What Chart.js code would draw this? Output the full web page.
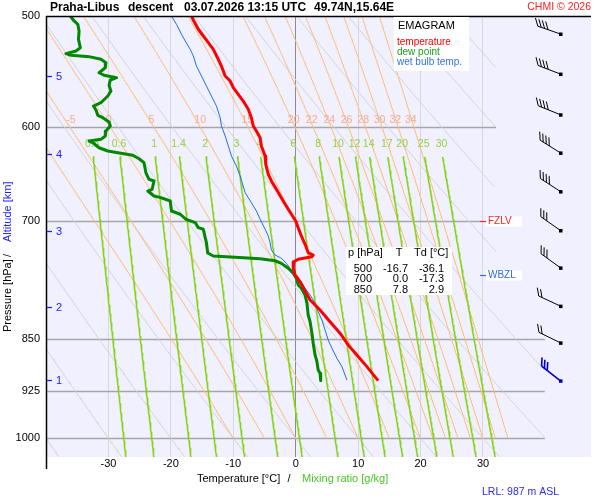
<!DOCTYPE html>
<html><head><meta charset="utf-8">
<script src="https://cdn.jsdelivr.net/npm/chart.js@4.4.0/dist/chart.umd.min.js"></script>
<style>html,body{margin:0;padding:0;background:#fff}canvas{display:block}</style>
</head><body>
<canvas id="c" width="600" height="500"></canvas>
<script>
// ---------------- DATA ----------------
const tempP = [500,503.3,511.0,516.7,522.4,528.1,536.8,542.8,551.7,556.3,562.4,568.6,574.9,582.7,590.8,598.9,603.9,610.5,618.9,629.1,637.8,648.3,655.5,664.5,677.4,686.7,700.0,707.7,717.4,727.3,737.4,740.2,742.3,745.4,748.4,756.5,764.9,773.3,796.9,810.1,825.8,841.6,857.9,872.1,889.0,909.7];
const tempT = [-16.7,-16.4,-15.6,-14.8,-14.0,-13.2,-12.4,-11.9,-11.3,-10.5,-10.0,-9.2,-8.4,-7.6,-7.1,-6.8,-6.3,-5.7,-5.5,-4.9,-4.8,-4.4,-3.9,-3.1,-2.0,-1.2,0.0,0.4,0.9,1.5,2.0,2.8,2.6,0.4,-0.3,-0.4,-0.1,0.7,2.3,3.9,5.5,7.1,8.4,9.8,11.4,13.2];

const dewP = [500,504.1,506.9,512.5,519.5,526.7,529.6,531.9,533.3,534.5,536.8,539.8,544.3,548.8,551.1,553.3,555.4,560.2,565.5,570.2,576.5,579.6,583.4,588.5,590.8,595.0,598.9,603.9,608.8,612.2,613.9,615.6,620.7,624.0,625.8,628.4,632.0,636.1,646.7,653.7,655.5,664.5,666.4,671.9,673.7,677.4,688.6,692.3,698.0,701.9,707.7,709.6,719.4,725.4,737.8,741.4,743.5,744.7,747.2,750.4,756.5,762.7,769.0,777.5,781.7,790.4,801.2,816.8,825.8,841.6,855.5,872.1,881.8,893.9,898.7,909.7];
const dewT = [-36.1,-35.5,-34.9,-34.7,-34.8,-34.5,-35.2,-36.8,-36.0,-33.1,-31.2,-30.4,-30.5,-31.5,-30.7,-28.7,-29.7,-29.9,-29.6,-30.1,-31.2,-32.4,-32.0,-31.7,-30.9,-29.9,-29.7,-30.4,-30.5,-31.2,-33.1,-32.5,-31.5,-30.1,-28.5,-26.1,-25.1,-24.3,-24.0,-23.5,-22.7,-23.0,-23.7,-22.7,-21.6,-20.1,-19.9,-18.5,-17.6,-16.1,-15.6,-14.8,-14.5,-14.3,-14.1,-13.2,-8.4,-5.7,-3.3,-2.3,-1.2,-0.4,0.1,0.4,0.9,1.5,1.8,2.0,2.3,2.6,2.8,3.1,3.4,3.6,3.9,4.0];

const wbP = [500,506.9,515.2,520.9,528.1,533.9,542.8,551.7,560.9,570.2,579.6,590.8,598.9,608.8,618.9,629.1,639.6,650.1,668.2,679.3,688.6,698.0,709.6,717.4,725.4,734.1,740.2,744.2,750.4,758.6,764.9,771.1,781.7,790.4,801.2,812.4,823.5,837.1,850.9,862.6,876.9,889.0,908.7];
const wbT = [-19.9,-19.1,-18.3,-17.7,-16.9,-16.4,-15.9,-15.1,-14.3,-13.5,-12.7,-12.1,-11.9,-11.3,-10.8,-10.3,-9.5,-8.9,-8.1,-7.1,-6.3,-5.7,-4.9,-4.4,-4.1,-3.9,-3.3,-2.3,-1.5,-0.7,-0.1,0.7,1.5,2.3,3.1,3.6,4.2,4.7,5.2,5.8,6.6,7.4,8.2];

const tableP = [500, 700, 850];
const tableT = ['-16.7', '0.0', '7.8'];
const tableTd = ['-36.1', '-17.3', '2.9'];

const windKm  = [1, 1.5, 2, 2.5, 3, 3.5, 4, 4.5, 5, 5.5];
const windP   = [910, 855, 805, 756, 711, 667, 626, 588, 550, 515];
const windDir = [308, 296, 295, 306, 305, 303, 302, 292, 291, 289];
const windKt  = [30, 20, 20, 30, 30, 40, 40, 40, 40, 40];

const altKm = [1, 2, 3, 4, 5];
const altP  = [909, 806, 711.6, 627.4, 551.5];

const fzlvP = 700;
const wbzlP = 765;

const xTicks = [-30, -20, -10, 0, 10, 20, 30];
const pTicks = [500, 600, 700, 850, 925, 1000];
const pLinesShort = [600];
const dryTheta = [-40,-30,-20,-10,0,10,20,30,40,50,60,70,80,90,100];
const moistThetaW = [-10,-5,0,5,10,15,20,22,24,26,28,30,32,34];
const mixRatio = [0.4,0.6,1,1.4,2,3,4,6,8,10,12,14,17,20,25,30];

// ---------------- thermodynamics for background guides ----------------
const FONT = '"Liberation Sans", Arial, Helvetica, sans-serif';
function esat(T){ return 6.112*Math.exp(17.67*T/(T+243.5)); }
function rsat(T,p){ const e=esat(T); return 0.622*e/(p-e); }
function moistSlope(T,p){
  const Tk=T+273.15, rs=rsat(T,p), Rd=287.04, cp=1005.7, Lv=2.501e6, eps=0.622;
  return (Rd*Tk + Lv*rs)/(p*(cp + Lv*Lv*rs*eps/(Rd*Tk*Tk)));
}
function dryList(th){ const o=[]; for(let p=500;p<=1032;p+=2) o.push({p, T:(th+273.15)*Math.pow(p/1000,0.2857)-273.15}); return o; }
function moistList(tw){
  const o=[]; let T=tw;
  for(let p=1000;p>=500;p-=1){
    o.push({p,T});
    const h=-1, k1=moistSlope(T,p), k2=moistSlope(T+h*k1/2,p+h/2), k3=moistSlope(T+h*k2/2,p+h/2), k4=moistSlope(T+h*k3,p+h);
    T+=h*(k1+2*k2+2*k3+k4)/6;
  }
  return o;
}
function mixT(w,p){ const e=w*p/(622+w); const l=Math.log(e/6.112); return 243.5*l/(17.67-l); }
function mixList(w){ const o=[]; for(let p=630;p<=1032;p+=3) o.push({p, T:mixT(w,p)}); return o; }
function limT(p){ return p < 815 ? 32.1 : 39.9; }
function clipPts(list){
  const out=[]; let inside=false;
  for(const q of list){
    if(q.T <= limT(q.p)){ out.push({x:q.T,y:q.p}); inside=true; }
    else if(inside){ out.push({x:null,y:null}); inside=false; }
  }
  return out;
}
function tAt(list,p){ let best=list[0]; for(const q of list){ if(Math.abs(q.p-p)<Math.abs(best.p-p)) best=q; } return best.T; }

const dryLines = dryTheta.map(dryList);
const moistLines = moistThetaW.map(moistList);
const mixLines = mixRatio.map(mixList);

const base = {showLine:true, pointRadius:0, fill:false, tension:0, spanGaps:false, borderJoinStyle:'round'};
const datasets = [
  Object.assign({label:'temperature', data: tempP.map((p,i)=>({x:tempT[i],y:p})), borderColor:'#ff0000', borderWidth:3}, base),
  Object.assign({label:'dew point', data: dewP.map((p,i)=>({x:dewT[i],y:p})), borderColor:'#008800', borderWidth:3}, base),
  Object.assign({label:'wet bulb temp.', data: wbP.map((p,i)=>({x:wbT[i],y:p})), borderColor:'#1f6ee6', borderWidth:1}, base)
];
mixLines.forEach(l=>datasets.push(Object.assign({data:clipPts(l), borderColor:'#86d414', borderWidth:1.5, clip:0}, base)));
moistLines.forEach(l=>datasets.push(Object.assign({data:clipPts(l), borderColor:'#ffbd73', borderWidth:1, clip:0}, base)));
dryLines.forEach(l=>datasets.push(Object.assign({data:clipPts(l), borderColor:'#d4d4d4', borderWidth:1, clip:0}, base)));

function txt(ctx,s,x,y,color,size,align,weight){
  ctx.fillStyle=color; ctx.font=(weight||'normal')+' '+size+'px '+FONT;
  ctx.textAlign=align||'left'; ctx.textBaseline='middle'; ctx.fillText(s,x,y);
}
function line(ctx,x1,y1,x2,y2,color,w){ ctx.strokeStyle=color; ctx.lineWidth=w; ctx.beginPath(); ctx.moveTo(x1,y1); ctx.lineTo(x2,y2); ctx.stroke(); }

function drawBarb(ctx,x,y,dir,kt,color,lw){
  const d=dir*Math.PI/180, ux=Math.sin(d), uy=-Math.cos(d);
  const L=24, F=8.5, gap=3.6, rot=55*Math.PI/180;
  const sx=ux, sy=-uy;
  const fxu=sx*Math.cos(rot)+sy*Math.sin(rot), fyu=-sx*Math.sin(rot)+sy*Math.cos(rot);
  const fx=fxu, fy=-fyu;
  ctx.strokeStyle=color; ctx.fillStyle=color; ctx.lineWidth=lw; ctx.lineCap='butt';
  const ex=x+ux*L, ey=y+uy*L;
  ctx.beginPath(); ctx.moveTo(x,y); ctx.lineTo(ex,ey); ctx.stroke();
  let n=Math.floor(kt/10), half=(kt%10)>=5, pos=0;
  for(let i=0;i<n;i++){ const bx=ex-ux*pos, by=ey-uy*pos; ctx.beginPath(); ctx.moveTo(bx,by); ctx.lineTo(bx+fx*F,by+fy*F); ctx.stroke(); pos+=gap; }
  if(half){ const bx=ex-ux*pos, by=ey-uy*pos; ctx.beginPath(); ctx.moveTo(bx,by); ctx.lineTo(bx+fx*F/2,by+fy*F/2); ctx.stroke(); }
  ctx.fillRect(x-1.5,y-1.5,3.5,3.5);
}

const deco = {
  id:'deco',
  beforeDraw(chart){
    const {ctx, chartArea:a}=chart; ctx.save();
    ctx.fillStyle='#ffffff'; ctx.fillRect(0,0,chart.width,chart.height);
    ctx.fillStyle='#f0f0ff'; ctx.fillRect(a.left,a.top,a.right-a.left,a.bottom-a.top);
    ctx.restore();
  },
  beforeDatasetsDraw(chart){
    const {ctx, chartArea:a, scales}=chart; ctx.save();
    pTicks.forEach(p=>{
      if(p===500) return;
      const y=Math.round(scales.y.getPixelForValue(p))+0.5;
      let xe = p<=pLinesShort[0] ? scales.x.getPixelForValue(32.1) : (p===fzlvP ? scales.x.getPixelForValue(29.5) : scales.x.getPixelForValue(39.9));
      line(ctx,a.left,y,xe,y,'#a6a6a6',1.3);
    });
    ctx.restore();
  },
  beforeDatasetDraw(chart,args){
    if(args.index!==2) return;
    const {ctx, chartArea:a, scales}=chart; ctx.save();
    const yo=scales.y.getPixelForValue(593);
    moistLines.forEach((l,i)=>{
      const x=scales.x.getPixelForValue(tAt(l,593));
      const off = 1 - 0.2*Math.max(0, moistThetaW[i]+5);
      if(x>a.left+4) txt(ctx,String(moistThetaW[i]),x+off,yo,'#f7ab8c',10.5,'left');
    });
    const yg=scales.y.getPixelForValue(630)-13;
    mixLines.forEach((l,i)=>{
      const x=scales.x.getPixelForValue(mixT(mixRatio[i],630));
      txt(ctx,String(mixRatio[i]),x-1,yg,'#98d040',10.5,'center');
    });
    ctx.restore();
  },
  afterDatasetsDraw(chart){
    const {ctx, chartArea:a, scales}=chart; ctx.save();
    const X=v=>scales.x.getPixelForValue(v), Y=v=>scales.y.getPixelForValue(v);
    line(ctx,a.left,a.top+0.5,a.right,a.top+0.5,'#000',1.5);
    line(ctx,a.left+0.5,a.top,a.left+0.5,469,'#000',1.5);
    txt(ctx,'Praha-Libus',50,8,'#000',12,'left','bold');
    txt(ctx,'descent',128,8,'#000',12,'left','bold');
    txt(ctx,'03.07.2026 13:15 UTC',184,8,'#000',12,'left','bold');
    txt(ctx,'49.74N,15.64E',314,8,'#000',12,'left','bold');
    txt(ctx,'CHMI \u00A9 2026',591,7,'#ff2020',10.5,'right');
    ctx.fillStyle='#ffffff'; ctx.fillRect(394,17,75,54);
    txt(ctx,'EMAGRAM',398,26,'#000',11,'left');
    txt(ctx,'temperature',397,42,'#ff0000',10,'left');
    txt(ctx,'dew point',397,52,'#1fa01f',10,'left');
    txt(ctx,'wet bulb temp.',397,62,'#2f72f0',10,'left');
    ctx.fillStyle='#ffffff'; ctx.fillRect(346,247,106,48);
    txt(ctx,'p [hPa]',348,253,'#000',11,'left');
    txt(ctx,'T',399,253,'#000',11,'center');
    txt(ctx,'Td [\u00B0C]',414,253,'#000',11,'left');
    const rowY=[268.5,279,289.5];
    tableP.forEach((p,i)=>{
      txt(ctx,String(p),372,rowY[i],'#000',11,'right');
      txt(ctx,tableT[i],408,rowY[i],'#000',11,'right');
      txt(ctx,tableTd[i],444,rowY[i],'#000',11,'right');
    });
    const yf=Math.round(Y(fzlvP))+0.5, yw=Math.round(Y(wbzlP))+0.5;
    ctx.fillStyle='#ffffff'; ctx.fillRect(486,yf-5,36,10); ctx.fillRect(486,yw-5,36,10);
    line(ctx,480,yf,486,yf,'#ff2020',1.2); txt(ctx,'FZLV',488,yf,'#ff2020',10,'left');
    line(ctx,480,yw,486,yw,'#2a6fe8',1.2); txt(ctx,'WBZL',488,yw,'#2a6fe8',10,'left');
    altKm.forEach((k,i)=>{ const y=Math.round(Y(altP[i]))+0.5; line(ctx,47,y,52,y,'#2020ff',1.3); txt(ctx,String(k),56,y,'#2020ff',11,'left'); });
    windP.forEach((p,i)=>{ const blue=i===0; drawBarb(ctx,560.5,Y(p),windDir[i],windKt[i],blue?'#0000cc':'#000',blue?1.6:1); });
    txt(ctx,'Temperature [\u00B0C]',197,479,'#000',11,'left');
    txt(ctx,'/',289,479,'#000',11,'center');
    txt(ctx,'Mixing ratio [g/kg]',302,479,'#44cc22',11,'left');
    txt(ctx,'LRL: 987 m ASL',482,492,'#2a2aff',10.5,'left');
    ctx.save(); ctx.translate(8,0); ctx.rotate(-Math.PI/2);
    txt(ctx,'Pressure [hPa]',-332,0,'#000',11,'left');
    txt(ctx,'/',-255.5,0,'#000',11,'center');
    txt(ctx,'Altitude [km]',-242,0,'#2020ff',11,'left');
    ctx.restore();
    ctx.restore();
  }
};

new Chart(document.getElementById('c'), {
  type:'scatter',
  data:{datasets},
  options:{
    responsive:false, animation:false, devicePixelRatio:1, events:[],
    layout:{padding:{top:16,right:9,left:0,bottom:0}},
    plugins:{legend:{display:false}, tooltip:{enabled:false}},
    scales:{
      x:{type:'linear', min:-40, max:47.3,
         afterBuildTicks:s=>{ s.ticks=xTicks.map(v=>({value:v})); },
         afterFit:s=>{ s.height=43; },
         grid:{color:c=>(c.tick && c.tick.value===0)?'#8c8c8c':'#d8d8d8', lineWidth:1, drawTicks:false},
         border:{display:false},
         ticks:{padding:0, color:'#000', font:{family:FONT,size:11}, maxRotation:0, autoSkip:false, callback:v=>String(v)}},
      y:{type:'logarithmic', reverse:true, min:500, max:1031.2,
         afterBuildTicks:s=>{ s.ticks=pTicks.map(v=>({value:v})); },
         afterFit:s=>{ s.width=46; },
         grid:{display:false, drawTicks:false},
         border:{display:false},
         ticks:{padding:6, color:'#000', font:{family:FONT,size:11}, autoSkip:false, callback:v=>String(v)}}
    }
  },
  plugins:[deco]
});
</script>
</body></html>
